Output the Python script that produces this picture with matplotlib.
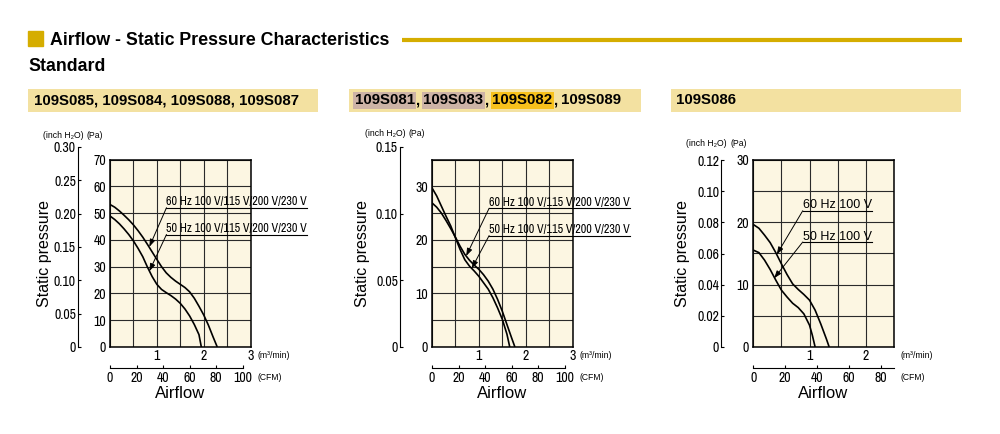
import numpy as np
import matplotlib
matplotlib.use("Agg")
from matplotlib import pyplot as plt
from matplotlib import font_manager
from matplotlib.patches import Rectangle

# ------------------------------------------------------------------
# data (airflow in m3/min, pressure in Pa)
# ------------------------------------------------------------------
page_title = "Airflow - Static Pressure Characteristics"
page_subtitle = "Standard"

# panel 1
p1_models = ["109S085", "109S084", "109S088", "109S087"]
p1_marks = [None, None, None, None]
p1_flow_60 = [0, 0.1, 0.2, 0.3, 0.4, 0.5, 0.6, 0.7, 0.8, 0.9, 1.0, 1.1, 1.2,
              1.3, 1.4, 1.5, 1.6, 1.7, 1.8, 1.9, 2.0, 2.1, 2.2, 2.29]
p1_pa_60 = [53.2, 52.2, 50.8, 49.2, 47.5, 45.6, 43.4, 41.0, 38.3, 35.5, 32.7,
            30.0, 27.7, 26.0, 24.6, 23.4, 22.2, 20.6, 18.2, 15.2, 12.0, 8.2,
            3.8, 0]
p1_flow_50 = [0, 0.1, 0.2, 0.3, 0.4, 0.5, 0.6, 0.7, 0.8, 0.9, 1.0, 1.1, 1.2,
              1.3, 1.4, 1.5, 1.6, 1.7, 1.8, 1.9, 1.95]
p1_pa_50 = [48.9, 47.6, 46.0, 44.1, 42.0, 39.6, 36.8, 33.7, 29.8, 26.3, 23.4,
            21.5, 20.3, 19.2, 17.9, 16.3, 14.2, 11.6, 8.4, 4.6, 0]
p1_labels = ["60 Hz 100 V/115 V/200 V/230 V", "50 Hz 100 V/115 V/200 V/230 V"]
p1_pa_ticks = [0, 10, 20, 30, 40, 50, 60, 70]
p1_inch_ticks = [0, 0.05, 0.10, 0.15, 0.20, 0.25, 0.30]
p1_m3_ticks = [1, 2, 3]
p1_cfm_ticks = [0, 20, 40, 60, 80, 100]

# panel 2
p2_models = ["109S081", "109S083", "109S082", "109S089"]
p2_marks = ["pink", "pink", "yellow", None]
p2_flow_60 = [0, 0.1, 0.2, 0.3, 0.4, 0.5, 0.6, 0.7, 0.8, 0.9, 1.0, 1.1, 1.2,
              1.3, 1.4, 1.5, 1.6, 1.7, 1.77]
p2_pa_60 = [26.9, 26.1, 25.0, 23.6, 22.1, 20.5, 18.8, 17.3, 16.2, 15.3, 14.5,
            13.5, 12.3, 10.8, 8.9, 6.7, 4.2, 1.7, 0]
p2_flow_50 = [0, 0.1, 0.2, 0.3, 0.4, 0.5, 0.6, 0.7, 0.8, 0.9, 1.0, 1.1, 1.2,
              1.3, 1.4, 1.5, 1.6, 1.66]
p2_pa_50 = [29.7, 28.2, 26.3, 24.4, 22.6, 20.4, 18.2, 16.3, 15.1, 14.2, 13.2,
            12.0, 10.8, 9.2, 7.3, 5.2, 2.4, 0]
p2_labels = ["60 Hz 100 V/115 V/200 V/230 V", "50 Hz 100 V/115 V/200 V/230 V"]
p2_pa_ticks = [0, 10, 20, 30]
p2_inch_ticks = [0, 0.05, 0.10, 0.15]
p2_m3_ticks = [1, 2, 3]
p2_cfm_ticks = [0, 20, 40, 60, 80, 100]

# panel 3
p3_models = ["109S086"]
p3_marks = [None]
p3_flow_60 = [0, 0.1, 0.2, 0.3, 0.4, 0.5, 0.6, 0.7, 0.8, 0.9, 1.0, 1.1, 1.2,
              1.3, 1.35]
p3_pa_60 = [19.6, 19.0, 17.9, 16.7, 15.1, 13.3, 11.6, 10.1, 9.2, 8.4, 7.5,
            5.9, 3.7, 1.3, 0]
p3_flow_50 = [0, 0.1, 0.2, 0.3, 0.4, 0.5, 0.6, 0.7, 0.8, 0.9, 1.0, 1.05, 1.1]
p3_pa_50 = [15.5, 15.1, 13.9, 12.4, 10.7, 9.1, 8.0, 7.0, 6.3, 5.3, 3.5, 1.9, 0]
p3_labels = ["60 Hz 100 V", "50 Hz 100 V"]
p3_pa_ticks = [0, 10, 20, 30]
p3_inch_ticks = [0, 0.02, 0.04, 0.06, 0.08, 0.10, 0.12]
p3_m3_ticks = [1, 2]
p3_cfm_ticks = [0, 20, 40, 60, 80]

PA_PER_INCH = 249.089
CFM_PER_M3 = 35.3147

# ------------------------------------------------------------------
# look
# ------------------------------------------------------------------
GOLD = "#D5AD00"
BAR = "#F3E1A1"
HILITE = {"pink": "#CDB3A6", "yellow": "#F7C11C"}
PLOT_BG = "#FCF6E2"
GRID = "#2a2a2a"
TICK_SIZE = 10

names = {f.name for f in font_manager.fontManager.ttflist}
SANS = ["Liberation Sans", "DejaVu Sans"]
NARROW = SANS
for cand in ["Liberation Sans Narrow", "Archivo Narrow", "Roboto Condensed",
             "PT Sans Narrow", "Fira Sans Condensed", "Asap Condensed"]:
    if cand in names:
        NARROW = [cand, "DejaVu Sans"]
        break
plt.rcParams["font.family"] = SANS

W, H = 1000, 434
fig = plt.figure(figsize=(W / 100, H / 100), dpi=100)


def fx(px):
    return px / W


def fy(py):
    return 1 - py / H


# page background axes in pixel units (header decorations)
ax_bg = fig.add_axes([0, 0, 1, 1])
ax_bg.set_xlim(0, W)
ax_bg.set_ylim(H, 0)
ax_bg.axis("off")

ax_bg.add_patch(Rectangle((28.3, 31), 15, 15, color=GOLD))
ax_bg.plot([402, 962], [39.5, 39.5], color=GOLD, lw=3, solid_capstyle="butt")
ax_bg.text(50, 45, page_title, fontsize=12.8, fontweight="bold",
           va="baseline", ha="left")
ax_bg.text(28, 71, page_subtitle, fontsize=12.8, fontweight="bold",
           va="baseline", ha="left")

PLOT_TOP, PLOT_BOTTOM, PLOT_W = 159.5, 347.0, 140.5
PLOT_H = PLOT_BOTTOM - PLOT_TOP
CFM_Y = 367.5

panels = [
    dict(models=p1_models, marks=p1_marks, bar=(28, 318), left=110,
         curves=[(p1_flow_60, p1_pa_60), (p1_flow_50, p1_pa_50)],
         labels=p1_labels, label_font=(NARROW, 8.7),
         label_pos=[(1.206, 52.0), (1.206, 42.0)],
         label_tip=[(0.84, 37.4), (0.84, 28.3)],
         pa_max=70, pa_grid=10, pa_ticks=p1_pa_ticks,
         inch_max=0.30, inch_ticks=p1_inch_ticks,
         m3_max=3, m3_ticks=p1_m3_ticks,
         cfm_end=100, cfm_ticks=p1_cfm_ticks,
         unit_y=135, ylabel_x=45),
    dict(models=p2_models, marks=p2_marks, bar=(349, 641), left=432,
         curves=[(p2_flow_60, p2_pa_60), (p2_flow_50, p2_pa_50)],
         labels=p2_labels, label_font=(NARROW, 8.7),
         label_pos=[(1.22, 25.9), (1.22, 20.8)],
         label_tip=[(0.73, 17.0), (0.85, 14.7)],
         pa_max=35, pa_grid=5, pa_ticks=p2_pa_ticks,
         inch_max=0.15, inch_ticks=p2_inch_ticks,
         m3_max=3, m3_ticks=p2_m3_ticks,
         cfm_end=100, cfm_ticks=p2_cfm_ticks,
         unit_y=134, ylabel_x=363),
    dict(models=p3_models, marks=p3_marks, bar=(670.7, 960.7), left=753.3,
         curves=[(p3_flow_60, p3_pa_60), (p3_flow_50, p3_pa_50)],
         labels=p3_labels, label_font=(SANS, 9),
         label_pos=[(0.88, 21.8), (0.88, 16.8)],
         label_tip=[(0.417, 14.8), (0.37, 11.0)],
         pa_max=30, pa_grid=5, pa_ticks=p3_pa_ticks,
         inch_max=0.12, inch_ticks=p3_inch_ticks,
         m3_max=2.5, m3_ticks=p3_m3_ticks,
         cfm_end=None, cfm_ticks=p3_cfm_ticks,
         unit_y=143, ylabel_x=682),
]

underlines = []
head_font = dict(fontsize=10.8, fontweight="bold", va="bottom", ha="left")

for p in panels:
    # header bar with model names
    x0, x1 = p["bar"]
    ax_bg.add_patch(Rectangle((x0, 89), x1 - x0, 23, color=BAR, lw=0))
    if all(m is None for m in p["marks"]):
        ax_bg.text(x0 + 5.5, 107.5, ", ".join(p["models"]), **head_font)
    else:
        prev = None
        for model, mark in zip(p["models"], p["marks"]):
            box = None
            if mark is not None:
                box = dict(boxstyle="square,pad=0.08", fc=HILITE[mark],
                           ec="none")
            if prev is None:
                prev = ax_bg.text(x0 + 5.5, 107.5, model, bbox=box,
                                  **head_font)
            else:
                comma = ax_bg.annotate(",", xy=(1, 0), xycoords=prev,
                                       xytext=(0.2, 0),
                                       textcoords="offset points", **head_font)
                prev = ax_bg.annotate(model, xy=(1, 0), xycoords=comma,
                                      xytext=(3.2, 0),
                                      textcoords="offset points", bbox=box,
                                      **head_font)

    left = p["left"]
    # main chart area (Pa vs m3/min)
    ax = fig.add_axes([fx(left), fy(PLOT_BOTTOM), PLOT_W / W, PLOT_H / H])
    ax.set_facecolor(PLOT_BG)
    ax.set_xlim(0, p["m3_max"])
    ax.set_ylim(0, p["pa_max"])
    ax.set_xticks(p["m3_ticks"], labels=[str(v) for v in p["m3_ticks"]])
    ax.set_xticks(np.arange(0, p["m3_max"] + 0.01, 0.5), minor=True)
    ax.set_yticks(p["pa_ticks"], labels=[str(v) for v in p["pa_ticks"]])
    ax.set_yticks(np.arange(0, p["pa_max"] + 0.01, p["pa_grid"]), minor=True)
    ax.grid(which="both", color=GRID, lw=0.8)
    ax.tick_params(which="both", length=0)
    ax.tick_params(axis="y", pad=3)
    ax.tick_params(axis="x", pad=1.5)
    for lab in ax.get_xticklabels() + ax.get_yticklabels():
        lab.set_family(NARROW)
        lab.set_fontsize(TICK_SIZE)
    for s in ax.spines.values():
        s.set_linewidth(1.1)
        s.set_color("black")

    for flow, pa in p["curves"]:
        ax.plot(flow, pa, color="black", lw=1.2, solid_capstyle="butt")

    fam, size = p["label_font"]
    for text, (lx, ly), tip in zip(p["labels"], p["label_pos"], p["label_tip"]):
        t = ax.annotate(text, xy=(lx, ly), xytext=(0, 2.4),
                        textcoords="offset pixels", family=fam, fontsize=size,
                        va="baseline", ha="left", annotation_clip=False)
        ax.annotate("", xy=tip, xytext=(lx, ly),
                    arrowprops=dict(arrowstyle="-|>,head_length=0.45,head_width=0.16",
                                    color="black", lw=0.7,
                                    shrinkA=0, shrinkB=0),
                    annotation_clip=False)
        underlines.append((ax, t, lx, ly))

    # inch H2O scale, same pressure scale as the Pa axis
    in_h = PLOT_H * p["inch_max"] * PA_PER_INCH / p["pa_max"]
    ax_in = fig.add_axes([fx(left - 32), fy(PLOT_BOTTOM), 0.002, in_h / H])
    ax_in.patch.set_visible(False)
    ax_in.set_ylim(0, p["inch_max"])
    ax_in.set_xticks([])
    for side in ["top", "right", "bottom"]:
        ax_in.spines[side].set_visible(False)
    ax_in.spines["left"].set_linewidth(0.8)
    ax_in.set_yticks(p["inch_ticks"],
                     labels=["0" if v == 0 else f"{v:.2f}" for v in p["inch_ticks"]])
    ax_in.tick_params(axis="y", direction="in", length=2.2, width=0.8, pad=1.5)
    for lab in ax_in.get_yticklabels():
        lab.set_family(NARROW)
        lab.set_fontsize(TICK_SIZE)

    # CFM scale below the chart
    cfm_end = p["cfm_end"]
    if cfm_end is None:
        cfm_end = p["m3_max"] * CFM_PER_M3
    cfm_w = PLOT_W * cfm_end / (p["m3_max"] * CFM_PER_M3)
    ax_cfm = fig.add_axes([fx(left), fy(CFM_Y), cfm_w / W, 0.002])
    ax_cfm.patch.set_visible(False)
    ax_cfm.set_xlim(0, cfm_end)
    ax_cfm.set_yticks([])
    for side in ["top", "right", "left"]:
        ax_cfm.spines[side].set_visible(False)
    ax_cfm.spines["bottom"].set_linewidth(0.8)
    ax_cfm.set_xticks(p["cfm_ticks"], labels=[str(v) for v in p["cfm_ticks"]])
    ax_cfm.tick_params(axis="x", direction="in", length=2.5, width=0.8, pad=2.6)
    for lab in ax_cfm.get_xticklabels():
        lab.set_family(NARROW)
        lab.set_fontsize(TICK_SIZE)

    # unit captions and axis titles
    uy = p["unit_y"]
    ax_bg.text(left - 32 - 15, uy, "(inch H₂O)", fontsize=6.2, ha="center",
               va="center")
    ax_bg.text(left - 15, uy, "(Pa)", fontsize=6.2, ha="center", va="center")
    right = left + PLOT_W
    ax_bg.text(right + 7, 356, "(m³/min)", fontsize=6.2, ha="left",
               va="center")
    ax_bg.text(right + 7, 377.5, "(CFM)", fontsize=6.2, ha="left",
               va="center")
    ax_bg.text(p["ylabel_x"], (PLOT_TOP + PLOT_BOTTOM) / 2, "Static pressure",
               fontsize=11.5, rotation=90, ha="center", va="center")
    ax_bg.text(left + PLOT_W / 2, 393.5, "Airflow", fontsize=12,
               ha="center", va="center")

# underline each curve caption over its own text width
fig.canvas.draw()
renderer = fig.canvas.get_renderer()
for ax, t, lx, ly in underlines:
    bb = t.get_window_extent(renderer)
    x_end = ax.transData.inverted().transform((bb.x1, bb.y0))[0]
    ax.plot([lx, x_end], [ly, ly], color="black", lw=0.8, clip_on=False)

fig.savefig("out.png", dpi=100)
